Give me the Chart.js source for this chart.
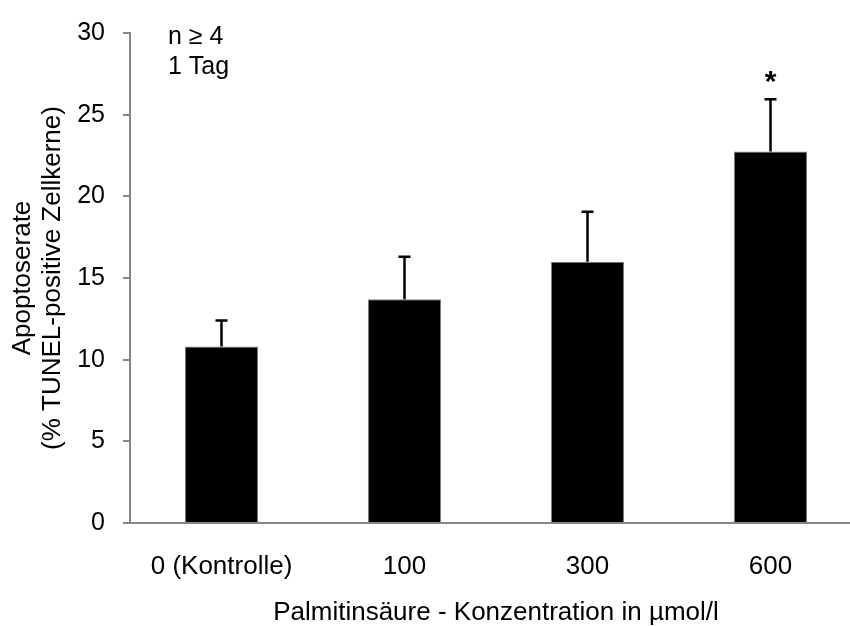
<!DOCTYPE html>
<html>
<head>
<meta charset="utf-8">
<script src="https://cdn.jsdelivr.net/npm/chart.js@4"></script>
<style>
  html, body { margin: 0; padding: 0; background: #fff; overflow: hidden; }
  #wrap { width: 850px; height: 626px; overflow: hidden; }
</style>
</head>
<body>
<div id="wrap"><canvas id="apoChart" width="862" height="626"></canvas></div>
<script>
// data
const categories = ['0 (Kontrolle)', '100', '300', '600'];
const apoptoseRate = [10.8, 13.7, 16.0, 22.75];
const errorSD = [1.6, 2.6, 3.05, 3.2];
const significant = [false, false, false, true];
const notes = ['n \u2265 4', '1 Tag'];

const AXIS_GREY = '#868686';
const FONT = 'Liberation Sans, Arial, sans-serif';

// error bars + asterisk + notes
const extrasPlugin = {
    id: 'extras',
    afterDatasetsDraw(chart) {
        const ctx = chart.ctx;
        const meta = chart.getDatasetMeta(0);
        const y = chart.scales.y;
        ctx.save();
        ctx.strokeStyle = '#000';
        ctx.lineWidth = 2.5;
        meta.data.forEach((bar, i) => {
            const top = y.getPixelForValue(apoptoseRate[i] + errorSD[i]);
            const base = y.getPixelForValue(apoptoseRate[i]);
            ctx.beginPath();
            ctx.moveTo(bar.x, base);
            ctx.lineTo(bar.x, top);
            ctx.moveTo(bar.x - 6, top);
            ctx.lineTo(bar.x + 6, top);
            ctx.stroke();
            if (significant[i]) {
                ctx.fillStyle = '#000';
                ctx.font = 'bold 30px ' + FONT;
                ctx.textAlign = 'center';
                ctx.textBaseline = 'alphabetic';
                ctx.fillText('*', bar.x, top - 8);
            }
        });
        // notes in the upper left corner
        ctx.fillStyle = '#000';
        ctx.font = '25px ' + FONT;
        ctx.textAlign = 'left';
        ctx.textBaseline = 'alphabetic';
        notes.forEach((t, i) => {
            ctx.fillText(t, chart.chartArea.left + 38, 44 + i * 30);
        });
        ctx.restore();
    }
};

new Chart(document.getElementById('apoChart'), {
    type: 'bar',
    data: {
        labels: categories,
        datasets: [{
            data: apoptoseRate,
            backgroundColor: '#000',
            borderColor: '#7f7f7f',
            borderWidth: 1,
            barPercentage: 0.4,
            categoryPercentage: 1.0
        }]
    },
    options: {
        responsive: false,
        animation: false,
        layout: { padding: { top: 27, right: 0, bottom: 0, left: 0 } },
        plugins: {
            legend: { display: false },
            tooltip: { enabled: false }
        },
        scales: {
            x: {
                grid: { display: false, drawTicks: false },
                border: { display: true, color: AXIS_GREY, width: 2 },
                ticks: {
                    color: '#000',
                    padding: 28,
                    maxRotation: 0,
                    font: { family: FONT, size: 26 }
                },
                title: {
                    display: true,
                    text: 'Palmitins\u00e4ure - Konzentration in \u00b5mol/l',
                    color: '#000',
                    padding: { top: 0, bottom: 0 },
                    font: { family: FONT, size: 26, lineHeight: 1.0 }
                },
                afterFit(scale) { scale.height = 103; }
            },
            y: {
                min: 0,
                max: 30,
                grid: {
                    drawOnChartArea: false,
                    drawTicks: true,
                    tickLength: 7,
                    color: AXIS_GREY,
                    lineWidth: 2
                },
                border: { display: true, color: AXIS_GREY, width: 2 },
                ticks: {
                    stepSize: 5,
                    color: '#000',
                    padding: 18,
                    font: { family: FONT, size: 25 }
                },
                title: {
                    display: true,
                    text: ['Apoptoserate', '(% TUNEL-positive Zellkerne)'],
                    color: '#000',
                    padding: { top: 8, bottom: 0 },
                    font: { family: FONT, size: 26, lineHeight: 1.15 }
                },
                afterFit(scale) { scale.width = 130; }
            }
        }
    },
    plugins: [extrasPlugin]
});
</script>
</body>
</html>
